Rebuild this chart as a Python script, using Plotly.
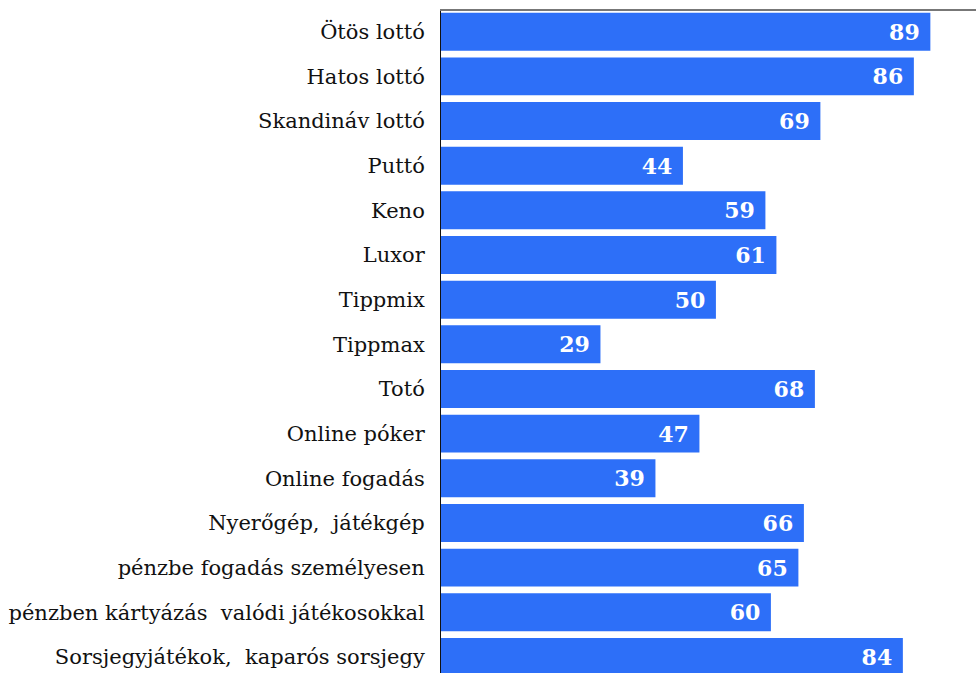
import plotly.graph_objects as go

categories = [
    "Ötös lottó", "Hatos lottó", "Skandináv lottó", "Puttó", "Keno", "Luxor",
    "Tippmix", "Tippmax", "Totó", "Online póker", "Online fogadás",
    "Nyerőgép,  játékgép", "pénzbe fogadás személyesen",
    "pénzben kártyázás  valódi játékosokkal", "Sorsjegyjátékok,  kaparós sorsjegy",
]
values = [89, 86, 69, 44, 59, 61, 50, 29, 68, 47, 39, 66, 65, 60, 84]

BLUE = "#2D6FF8"

fig = go.Figure(go.Bar(
    x=values,
    y=list(range(len(categories))),
    orientation="h",
    marker=dict(color=BLUE, line=dict(width=0)),
    text=[f"{v}\u00a0" for v in values],
    textposition="inside",
    insidetextanchor="end",
    constraintext="none",
    textfont=dict(family="DejaVu Serif", size=22, color="white", weight="bold"),
    hoverinfo="skip",
))

fig.update_layout(
    width=976, height=673,
    margin=dict(l=441, r=0, t=11, b=0, autoexpand=False),
    paper_bgcolor="white", plot_bgcolor="white",
    bargap=0.15,
    showlegend=False,
    font=dict(family="DejaVu Serif", color="#111111"),
)
fig.update_xaxes(
    range=[0, 97.3], side="top", showline=True, linecolor="#777777", linewidth=2,
    showticklabels=False, ticks="", showgrid=False, zeroline=False,
)
fig.update_yaxes(
    range=[14.36, -0.464],
    tickmode="array", tickvals=list(range(len(categories))), ticktext=categories,
    showline=True, linecolor="#111111", linewidth=1,
    ticks="", showgrid=False, zeroline=False,
    ticklabelstandoff=11,
    tickfont=dict(family="DejaVu Serif", size=21, color="#111111"),
)

fig.write_html(
    "out.html",
    config={"displayModeBar": False, "staticPlot": True},
    post_script="document.body.style.margin='0';document.body.style.overflow='hidden';",
)
